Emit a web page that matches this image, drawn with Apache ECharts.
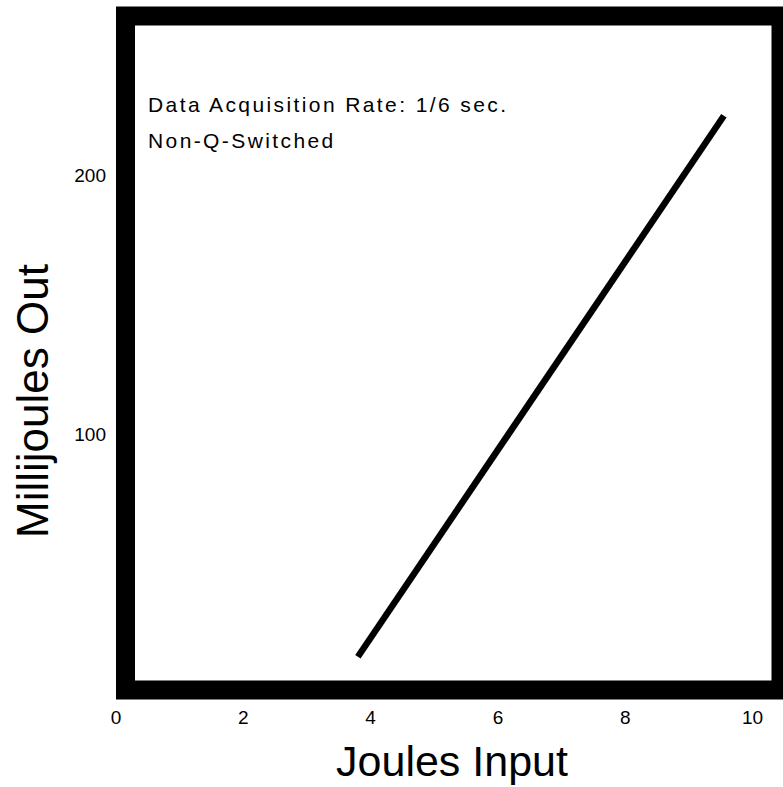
<!DOCTYPE html>
<html><head><meta charset="utf-8">
<script src="https://cdn.jsdelivr.net/npm/echarts@6/dist/echarts.min.js"></script>
<style>html,body{margin:0;padding:0;background:#fff}#c{width:783px;height:787px}</style>
</head><body><div id="c"></div>
<script>
// ---- data ----
const xTicks = [0, 2, 4, 6, 8, 10];
const yTicks = [100, 200];
const joulesInput = [3.8, 9.55];
const millijoulesOut = [14, 223];
const notes = ['Data Acquisition Rate: 1/6 sec.', 'Non-Q-Switched'];
const xTitle = 'Joules Input';
const yTitle = 'Millijoules Out';

const chart = echarts.init(document.getElementById('c'), null, {renderer: 'svg'});
const font = 'Liberation Sans, Arial, sans-serif';
chart.setOption({
  animation: false,
  backgroundColor: '#fff',
  grid: [
    {left: 116, right: 5, top: 20, bottom: 94, show: false},
    {left: 125.5, right: 2, top: 16, bottom: 97, show: true, borderColor: '#000', borderWidth: 19, backgroundColor: 'transparent'}
  ],
  xAxis: [
    {gridIndex: 0, type: 'value', min: 0, max: 10.4, interval: 2,
     axisLine: {show: false}, axisTick: {show: false}, splitLine: {show: false},
     axisLabel: {customValues: xTicks, color: '#000', fontSize: 19, fontFamily: font, margin: 15}},
    {gridIndex: 1, type: 'value', show: false, splitLine: {show: false}}
  ],
  yAxis: [
    {gridIndex: 0, type: 'value', min: 0, max: 260, interval: 100,
     axisLine: {show: false}, axisTick: {show: false}, splitLine: {show: false},
     axisLabel: {customValues: yTicks, color: '#000', fontSize: 19, fontFamily: font, margin: 10}},
    {gridIndex: 1, type: 'value', show: false, splitLine: {show: false}}
  ],
  series: [{
    type: 'line', xAxisIndex: 0, yAxisIndex: 0,
    data: joulesInput.map((x, i) => [x, millijoulesOut[i]]),
    showSymbol: false, symbol: 'none',
    lineStyle: {color: '#000', width: 6.5, cap: 'butt'}
  }],
  graphic: [
    {type: 'text', x: 148, y: 104, style: {text: notes[0], font: '21px ' + font, fill: '#000', verticalAlign: 'middle', align: 'left'}},
    {type: 'text', x: 148, y: 140, style: {text: notes[1], font: '21px ' + font, fill: '#000', verticalAlign: 'middle', align: 'left'}},
    {type: 'text', x: 452, y: 761, style: {text: xTitle, font: '43px ' + font, fill: '#000', verticalAlign: 'middle', align: 'center'}},
    {type: 'text', x: 32, y: 401, rotation: Math.PI / 2, style: {text: yTitle, font: '44px ' + font, fill: '#000', verticalAlign: 'middle', align: 'center'}}
  ]
});
// widen the scanned-looking annotation text
document.querySelectorAll('#c text').forEach(t => {
  const s = t.textContent;
  if (s === notes[0] || s === notes[1]) t.style.letterSpacing = '2.4px';
});
</script></body></html>
